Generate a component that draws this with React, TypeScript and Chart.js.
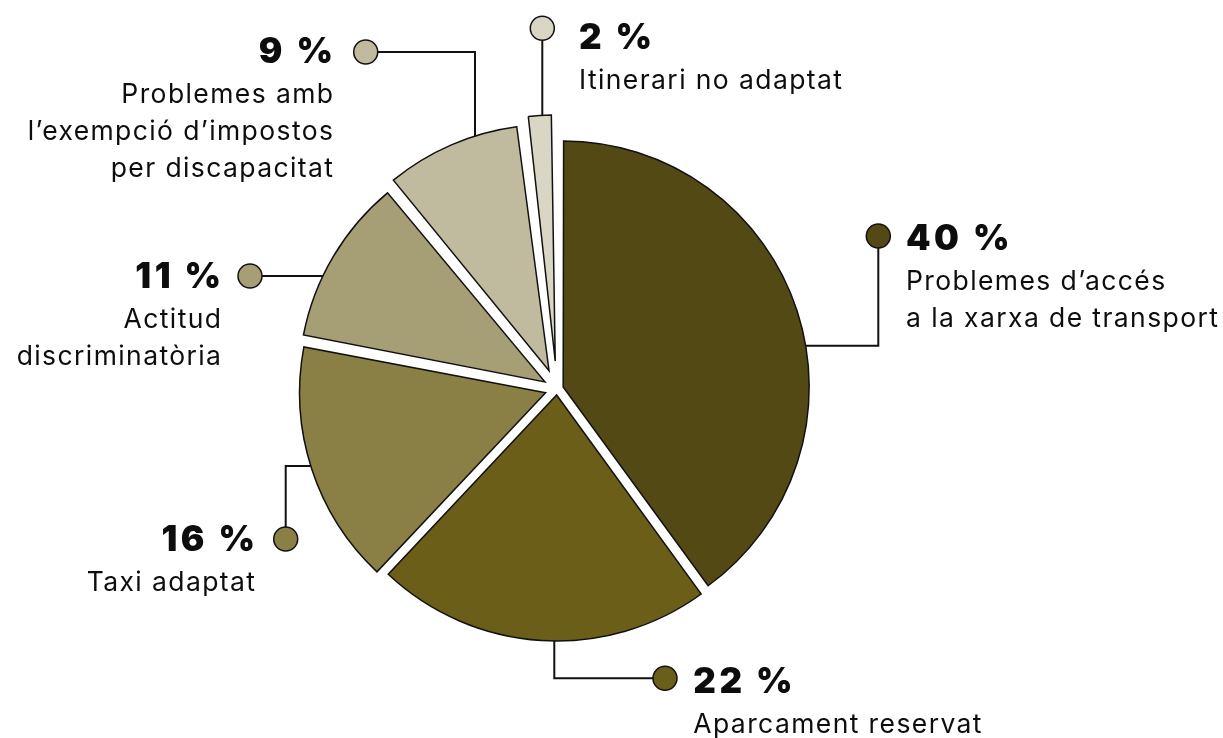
import React, { useEffect, useRef } from "react";
import { Chart, registerables } from "chart.js";

Chart.register(...registerables);

// ---- data ----
const categories: string[][] = [
  ["Problemes d’accés", "a la xarxa de transport"],
  ["Aparcament reservat"],
  ["Taxi adaptat"],
  ["Actitud", "discriminatòria"],
  ["Problemes amb", "l’exempció d’impostos", "per discapacitat"],
  ["Itinerari no adaptat"],
];
const values: number[] = [40, 22, 16, 11, 9, 2];

// ---- styles ----
const sliceColors = ["#524915", "#6b5e18", "#8a8045", "#a69f75", "#c0bb9e", "#d9d6c3"];
const sliceOffsets = [26, 24, 48, 56, 80, 112]; // chart.js offset units (drawn shift = offset / 4)
const PIE_RADIUS = 246;

type Callout = {
  route: "h" | "hv" | "v" | "vh";
  line: number; // y (h routes) or x (v routes) of first segment, relative to pie centre
  dot: [number, number]; // relative to pie centre
  align: "left" | "right";
  text: [number, number]; // bold baseline relative to dot
};
const callouts: Callout[] = [
  { route: "hv", line: -43.3, dot: [321.3, -153], align: "left", text: [27.7, 14] },
  { route: "vh", line: -2.7, dot: [108, 289.3], align: "left", text: [28.3, 14.4] },
  { route: "hv", line: 77, dot: [-271.3, 150], align: "right", text: [-30.7, 12] },
  { route: "h", line: -113, dot: [-307, -113], align: "right", text: [-29, 12.3] },
  { route: "vh", line: -82, dot: [-191.3, -337], align: "right", text: [-32.7, 11.3] },
  { route: "v", line: -14.7, dot: [-14.7, -360.7], align: "left", text: [36.7, 21] },
];

const BOLD_FONT = "900 35px Inter";
const BOLD_SPACING = 3.5;
const TEXT_FONT = "400 26.5px Inter";
const TEXT_SPACING = 1.4;
const FIRST_GAP = 40;
const LINE_H = 37;
const DOT_R = 12;

function drawText(ctx: any, s: string, x: number, y: number, align: string, spacing: number) {
  ctx.letterSpacing = `${spacing}px`;
  ctx.fillText(s, align === "right" ? x + spacing : x, y);
}

const calloutPlugin = {
  id: "callouts",
  beforeDatasetsDraw(chart: any) {
    const meta = chart.getDatasetMeta(0);
    meta.data.forEach((arc: any) => {
      const t = (arc.options.offset || 0) / 4;
      const circ = arc.endAngle - arc.startAngle;
      const fix = 1 - Math.sin(Math.min(Math.PI, circ));
      arc.outerRadius = PIE_RADIUS - t * fix;
    });
  },
  afterDatasetsDraw(chart: any) {
    const ctx: any = chart.ctx;
    const meta = chart.getDatasetMeta(0);
    ctx.save();
    meta.data.forEach((arc: any, i: number) => {
      const c = callouts[i];
      if (!c) return;
      const t = (arc.options.offset || 0) / 4;
      const half = (arc.startAngle + arc.endAngle) / 2;
      const sx = arc.x + Math.cos(half) * t;
      const sy = arc.y + Math.sin(half) * t;
      const R = PIE_RADIUS;
      const dx = arc.x + c.dot[0];
      const dy = arc.y + c.dot[1];
      const pts: [number, number][] = [];
      if (c.route === "h" || c.route === "hv") {
        const y0 = arc.y + c.line;
        const h = Math.sqrt(Math.max(0, R * R - (y0 - sy) * (y0 - sy)));
        const ax = sx + (dx > sx ? h : -h);
        pts.push([ax, y0], [dx, y0]);
        if (c.route === "hv") pts.push([dx, dy]);
      } else {
        const x0 = arc.x + c.line;
        const h = Math.sqrt(Math.max(0, R * R - (x0 - sx) * (x0 - sx)));
        const ay = sy + (dy > sy ? h : -h);
        pts.push([x0, ay], [x0, dy]);
        if (c.route === "vh") pts.push([dx, dy]);
      }
      ctx.beginPath();
      ctx.moveTo(pts[0][0], pts[0][1]);
      for (let k = 1; k < pts.length; k++) ctx.lineTo(pts[k][0], pts[k][1]);
      ctx.lineWidth = 2;
      ctx.strokeStyle = "#111";
      ctx.lineJoin = "miter";
      ctx.stroke();

      ctx.beginPath();
      ctx.arc(dx, dy, DOT_R, 0, Math.PI * 2);
      ctx.fillStyle = sliceColors[i];
      ctx.fill();
      ctx.lineWidth = 1.5;
      ctx.strokeStyle = "#111";
      ctx.stroke();

      const tx = dx + c.text[0];
      let ty = dy + c.text[1];
      ctx.textAlign = c.align;
      ctx.textBaseline = "alphabetic";
      ctx.fillStyle = "#0d0d0d";
      ctx.font = BOLD_FONT;
      drawText(ctx, `${values[i]} %`, tx, ty, c.align, BOLD_SPACING);
      ctx.font = TEXT_FONT;
      ty += FIRST_GAP;
      categories[i].forEach((line) => {
        drawText(ctx, line, tx, ty, c.align, TEXT_SPACING);
        ty += LINE_H;
      });
    });
    ctx.restore();
  },
};

export default function App() {
  const ref = useRef<HTMLCanvasElement | null>(null);
  useEffect(() => {
    if (!ref.current) return;
    const chart = new Chart(ref.current, {
      type: "pie",
      data: {
        labels: categories.map((l) => l.join(" ")),
        datasets: [
          {
            data: values,
            backgroundColor: sliceColors,
            borderColor: "#111",
            borderWidth: 1.5,
            borderJoinStyle: "miter",
            offset: sliceOffsets,
          } as any,
        ],
      },
      options: {
        animation: false,
        responsive: true,
        maintainAspectRatio: false,
        events: [],
        radius: PIE_RADIUS,
        layout: { padding: { left: 0, right: 109, top: 40, bottom: 0 } },
        plugins: { legend: { display: false }, tooltip: { enabled: false } },
      } as any,
      plugins: [calloutPlugin],
    });
    return () => chart.destroy();
  }, []);
  return (
    <div style={{ position: "fixed", left: 0, top: 0, width: 1223, height: 738, background: "#fff" }}>
      <canvas ref={ref} />
    </div>
  );
}
